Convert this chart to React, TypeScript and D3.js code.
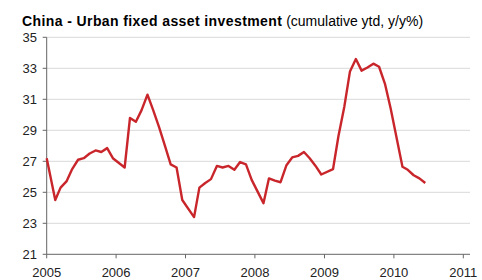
import * as d3 from 'd3'

// Urban FAI, cumulative ytd y/y % — monthly (no Jan print, Jan-Feb combined)
const DATES = [
  '2005-01-01', '2005-02-15', '2005-03-15', '2005-04-15', '2005-05-15', '2005-06-15', '2005-07-15',
  '2005-08-15', '2005-09-15', '2005-10-15', '2005-11-15', '2005-12-15',
  '2006-02-15', '2006-03-15', '2006-04-15', '2006-05-15', '2006-06-15', '2006-07-15',
  '2006-08-15', '2006-09-15', '2006-10-15', '2006-11-15', '2006-12-15',
  '2007-02-15', '2007-03-15', '2007-04-15', '2007-05-15', '2007-06-15', '2007-07-15',
  '2007-08-15', '2007-09-15', '2007-10-15', '2007-11-15', '2007-12-15',
  '2008-02-15', '2008-03-15', '2008-04-15', '2008-05-15', '2008-06-15', '2008-07-15',
  '2008-08-15', '2008-09-15', '2008-10-15', '2008-11-15', '2008-12-15',
  '2009-02-15', '2009-03-15', '2009-04-15', '2009-05-15', '2009-06-15', '2009-07-15',
  '2009-08-15', '2009-09-15', '2009-10-15', '2009-11-15', '2009-12-15',
  '2010-02-15', '2010-03-15', '2010-04-15', '2010-05-15', '2010-06-15',
]
const VALUES = [
  27.2, 24.5, 25.3, 25.7, 26.5, 27.1, 27.2, 27.5, 27.7, 27.6, 27.85, 27.2,
  26.6, 29.8, 29.55, 30.3, 31.3, 30.3, 29.2, 28.0, 26.8, 26.6, 24.5,
  23.4, 25.3, 25.6, 25.85, 26.7, 26.6, 26.7, 26.45, 26.95, 26.8, 25.8,
  24.3, 25.9, 25.75, 25.65, 26.75, 27.25, 27.35, 27.6, 27.2, 26.7, 26.15,
  26.5, 28.6, 30.5, 32.8, 33.6, 32.85, 33.05, 33.3, 33.1, 32.0, 30.4,
  26.65, 26.45, 26.1, 25.9, 25.6,
]
const Y_TICKS = [21, 23, 25, 27, 29, 31, 33, 35]
const X_YEARS = [2005, 2006, 2007, 2008, 2009, 2010, 2011]

const W = 482, H = 280
const LEFT = 46.7, RIGHT = 470, TOP = 37.3, BOTTOM = 254.3
const FONT = '"Liberation Sans", Arial, sans-serif'

export default function App() {
  const x = d3.scaleTime()
    .domain([new Date(2005, 0, 1), new Date(2011, 0, 1)])
    .range([LEFT, 463.3])
  const y = d3.scaleLinear().domain([21, 35]).range([BOTTOM, TOP])

  const pts = DATES.map((d, i) => ({ t: new Date(d + 'T00:00:00'), v: VALUES[i] }))
  const line = d3.line<{ t: Date; v: number }>()
    .x(d => x(d.t))
    .y(d => y(d.v))

  return (
    <div style={{ position: 'absolute', left: 0, top: 0 }}>
      <svg width={W} height={H} style={{ display: 'block', background: '#fff' }}>
        <text x={22} y={26.3} fontFamily={FONT} fontSize={14} fill="#000">
          <tspan fontWeight="bold" letterSpacing={0.4}>China - Urban fixed asset investment</tspan>
          <tspan> (cumulative ytd, y/y%)</tspan>
        </text>

        {/* grid */}
        {Y_TICKS.filter(t => t > 21).map(t => (
          <line key={t} x1={LEFT} x2={RIGHT} y1={y(t)} y2={y(t)} stroke="#d9d9d9" strokeWidth={1} />
        ))}

        {/* y axis */}
        <line x1={LEFT} x2={LEFT} y1={TOP} y2={BOTTOM} stroke="#666" strokeWidth={1} />
        {Y_TICKS.map(t => (
          <g key={t}>
            <line x1={LEFT - 4} x2={LEFT} y1={y(t)} y2={y(t)} stroke="#666" />
            <text x={37} y={y(t)} dy="0.35em" textAnchor="end" fontFamily={FONT} fontSize={13} fill="#222">{t}</text>
          </g>
        ))}

        {/* x axis */}
        <line x1={LEFT} x2={RIGHT} y1={BOTTOM} y2={BOTTOM} stroke="#666" strokeWidth={1} />
        {X_YEARS.map(yr => {
          const px = x(new Date(yr, 0, 1))
          return (
            <g key={yr}>
              <line x1={px} x2={px} y1={BOTTOM} y2={BOTTOM + 4} stroke="#666" />
              <text x={px} y={277} textAnchor="middle" fontFamily={FONT} fontSize={13} fill="#222">{yr}</text>
            </g>
          )
        })}

        <path d={line(pts) ?? ''} fill="none" stroke="#c9262c" strokeWidth={2.4} strokeLinejoin="round" />
      </svg>
    </div>
  )
}
